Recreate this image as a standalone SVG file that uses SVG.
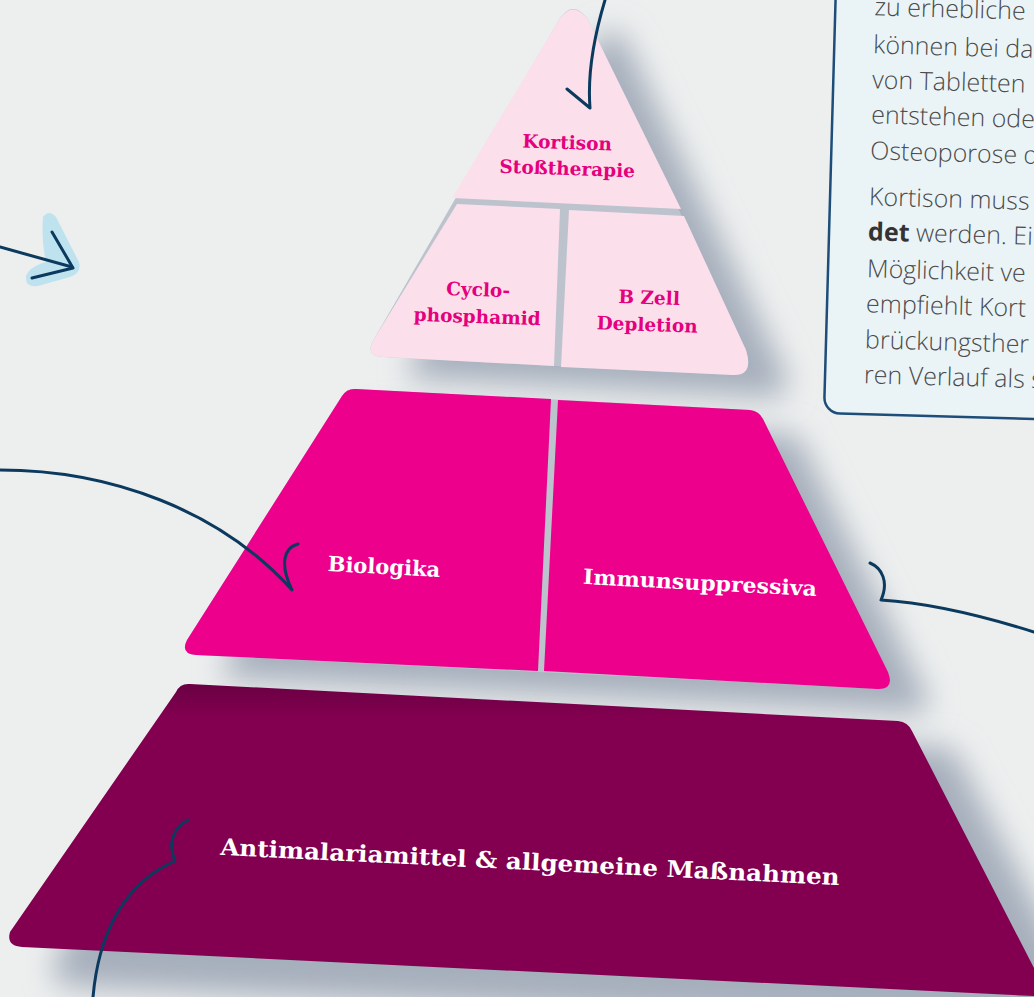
<svg xmlns="http://www.w3.org/2000/svg" width="1034" height="997" viewBox="0 0 1034 997">
  <defs>
    <filter id="soft" x="-30%" y="-30%" width="160%" height="160%">
      <feGaussianBlur stdDeviation="15"/>
    </filter>
    <linearGradient id="baseGrad" gradientUnits="userSpaceOnUse" x1="0" y1="684" x2="0" y2="740">
      <stop offset="0" stop-color="#6a0043"/>
      <stop offset="0.6" stop-color="#830050"/>
    </linearGradient>
    <style>
      .shadow { fill: #a6afbc; filter: url(#soft); }
      .gap { fill: #bcc3cc; }
      .light { fill: #fbdfeb; }
      .hot { fill: #ec008c; }
      .deep { fill: url(#baseGrad); }
      .lbl-s { font-family: "DejaVu Serif", "Liberation Serif", serif; font-weight: bold; font-size: 18.5px; fill: #e5007d; text-anchor: middle; }
      .lbl-m { font-family: "DejaVu Serif", "Liberation Serif", serif; font-weight: bold; font-size: 21px; fill: #ffffff; text-anchor: middle; }
      .lbl-l { font-family: "DejaVu Serif", "Liberation Serif", serif; font-weight: bold; font-size: 23px; fill: #ffffff; text-anchor: middle; }
      .body { font-family: "Open Sans", "Liberation Sans", sans-serif; font-weight: 300; font-size: 25px; fill: #4a4a4a; }
      .link { fill: none; stroke: #0c3a5e; stroke-width: 3; stroke-linecap: round; stroke-linejoin: round; }
    </style>
  </defs>

  <!-- background -->
  <rect width="1034" height="997" fill="#edefef"/>

  <!-- cast shadows of the pyramid tiers -->
  <g id="shadows">
    <path class="shadow" transform="translate(38,22)" d="M374,339 L560,18 Q573,0 587,18 L746,350 Q754,376 733,375 L383,357 Q364,356 374,339 Z"/>
    <path class="shadow" transform="translate(38,24)" d="M342,396 Q347,388 356,389 L750,410 Q759,411 763,419 L888,672 Q895,690 877,689 L196,655 Q180,654 187,640 Z"/>
    <path class="shadow" transform="translate(45,26)" d="M176,692 Q180,683 190,684 L898,721 Q908,722 912,731 L1060,1010 L20,960 Q6,958 10,932 Z"/>
  </g>

  <!-- info box, top right -->
  <g id="info-box" transform="rotate(1.6 930 200)">
    <rect x="830" y="-40" width="300" height="456" rx="16" fill="#eaf4f7" stroke="#1d4d78" stroke-width="2.5"/>
    <text class="body" x="869" y="17">zu erhebliche</text>
    <text class="body" x="869" y="55">können bei da</text>
    <text class="body" x="869" y="90">von Tabletten</text>
    <text class="body" x="869" y="125">entstehen ode</text>
    <text class="body" x="869" y="161">Osteoporose d</text>
    <text class="body" x="869" y="207">Kortison muss</text>
    <text class="body" x="869" y="242"><tspan font-weight="bold" fill="#333333">det</tspan> werden. Ei</text>
    <text class="body" x="869" y="279">Möglichkeit ve</text>
    <text class="body" x="869" y="314">empfiehlt Kort</text>
    <text class="body" x="869" y="350">brückungsther</text>
    <text class="body" x="869" y="385">ren Verlauf als s</text>
  </g>

  <!-- top tier: light pink -->
  <path class="gap" d="M374,339 L560,18 Q573,0 587,18 L746,350 Q754,376 733,375 L383,357 Q364,356 374,339 Z"/>
  <g id="node-kortison">
    <path class="light" d="M452,198 L560,18 Q573,1 587,18 L681,209 Z"/>
    <text class="lbl-s" transform="rotate(2 567 150)" x="567" y="149">Kortison</text>
    <text class="lbl-s" transform="rotate(2 567 175)" x="567" y="175">Stoßtherapie</text>
  </g>
  <g id="node-cyclophosphamid">
    <path class="light" d="M457,204 L560,209 L554,366 L383,357 Q364,356 374,339 Z"/>
    <text class="lbl-s" transform="rotate(2 478 296)" x="478" y="296">Cyclo-</text>
    <text class="lbl-s" transform="rotate(2 477 323)" x="477" y="323">phosphamid</text>
  </g>
  <g id="node-bzell">
    <path class="light" d="M569,210 L684,216 L746,350 Q754,376 733,375 L561,367 Z"/>
    <text class="lbl-s" transform="rotate(2 649 304)" x="649" y="304">B Zell</text>
    <text class="lbl-s" transform="rotate(2 647 331)" x="647" y="331">Depletion</text>
  </g>

  <!-- middle tier: hot pink -->
  <path class="gap" d="M342,396 Q347,388 356,389 L750,410 Q759,411 763,419 L888,672 Q895,690 877,689 L196,655 Q180,654 187,640 Z"/>
  <g id="node-biologika">
    <path class="hot" d="M342,396 Q347,388 356,389 L551,399 L538,671 L196,655 Q180,654 187,640 Z"/>
    <text class="lbl-m" transform="rotate(3 384 567)" x="384" y="574">Biologika</text>
  </g>
  <g id="node-immunsuppressiva">
    <path class="hot" d="M558,400 L750,410 Q759,411 763,419 L888,672 Q895,690 877,689 L544,671 Z"/>
    <text class="lbl-m" transform="rotate(3 700 583)" x="700" y="590" textLength="234" lengthAdjust="spacingAndGlyphs">Immunsuppressiva</text>
  </g>

  <!-- base tier: deep magenta -->
  <g id="node-antimalaria">
    <path class="deep" d="M176,692 Q180,683 190,684 L898,721 Q908,722 912,731 L1034,968 L1034,996 L22,947 Q6,946 10,932 Z"/>
    <text class="lbl-l" transform="rotate(2.8 530 862)" x="530" y="870" textLength="620" lengthAdjust="spacingAndGlyphs">Antimalariamittel &amp; allgemeine Maßnahmen</text>
  </g>

  <!-- connectors -->
  <g id="connectors">
    <path d="M43,217 Q49,209 56,217 L79,262 Q82,273 70,277 L38,286 Q25,288 26,276 Q29,267 46,262 Q41,240 43,217 Z" fill="#bfe3ee"/>
    <path class="link" d="M0,247 L72,267"/>
    <path class="link" d="M52,232 L73,268 L32,278" stroke-width="5"/>
    <path class="link" d="M605,0 C596,30 587,70 590,108 M567,89 L590,108"/>
    <path class="link" d="M0,470 C110,470 220,510 292,590 C280,565 283,548 298,544"/>
    <path class="link" d="M870,563 C882,568 889,582 881,600 C930,603 980,615 1034,632"/>
    <path class="link" d="M93,997 C98,940 120,885 175,861 C168,845 172,828 188,820"/>
  </g>
</svg>
